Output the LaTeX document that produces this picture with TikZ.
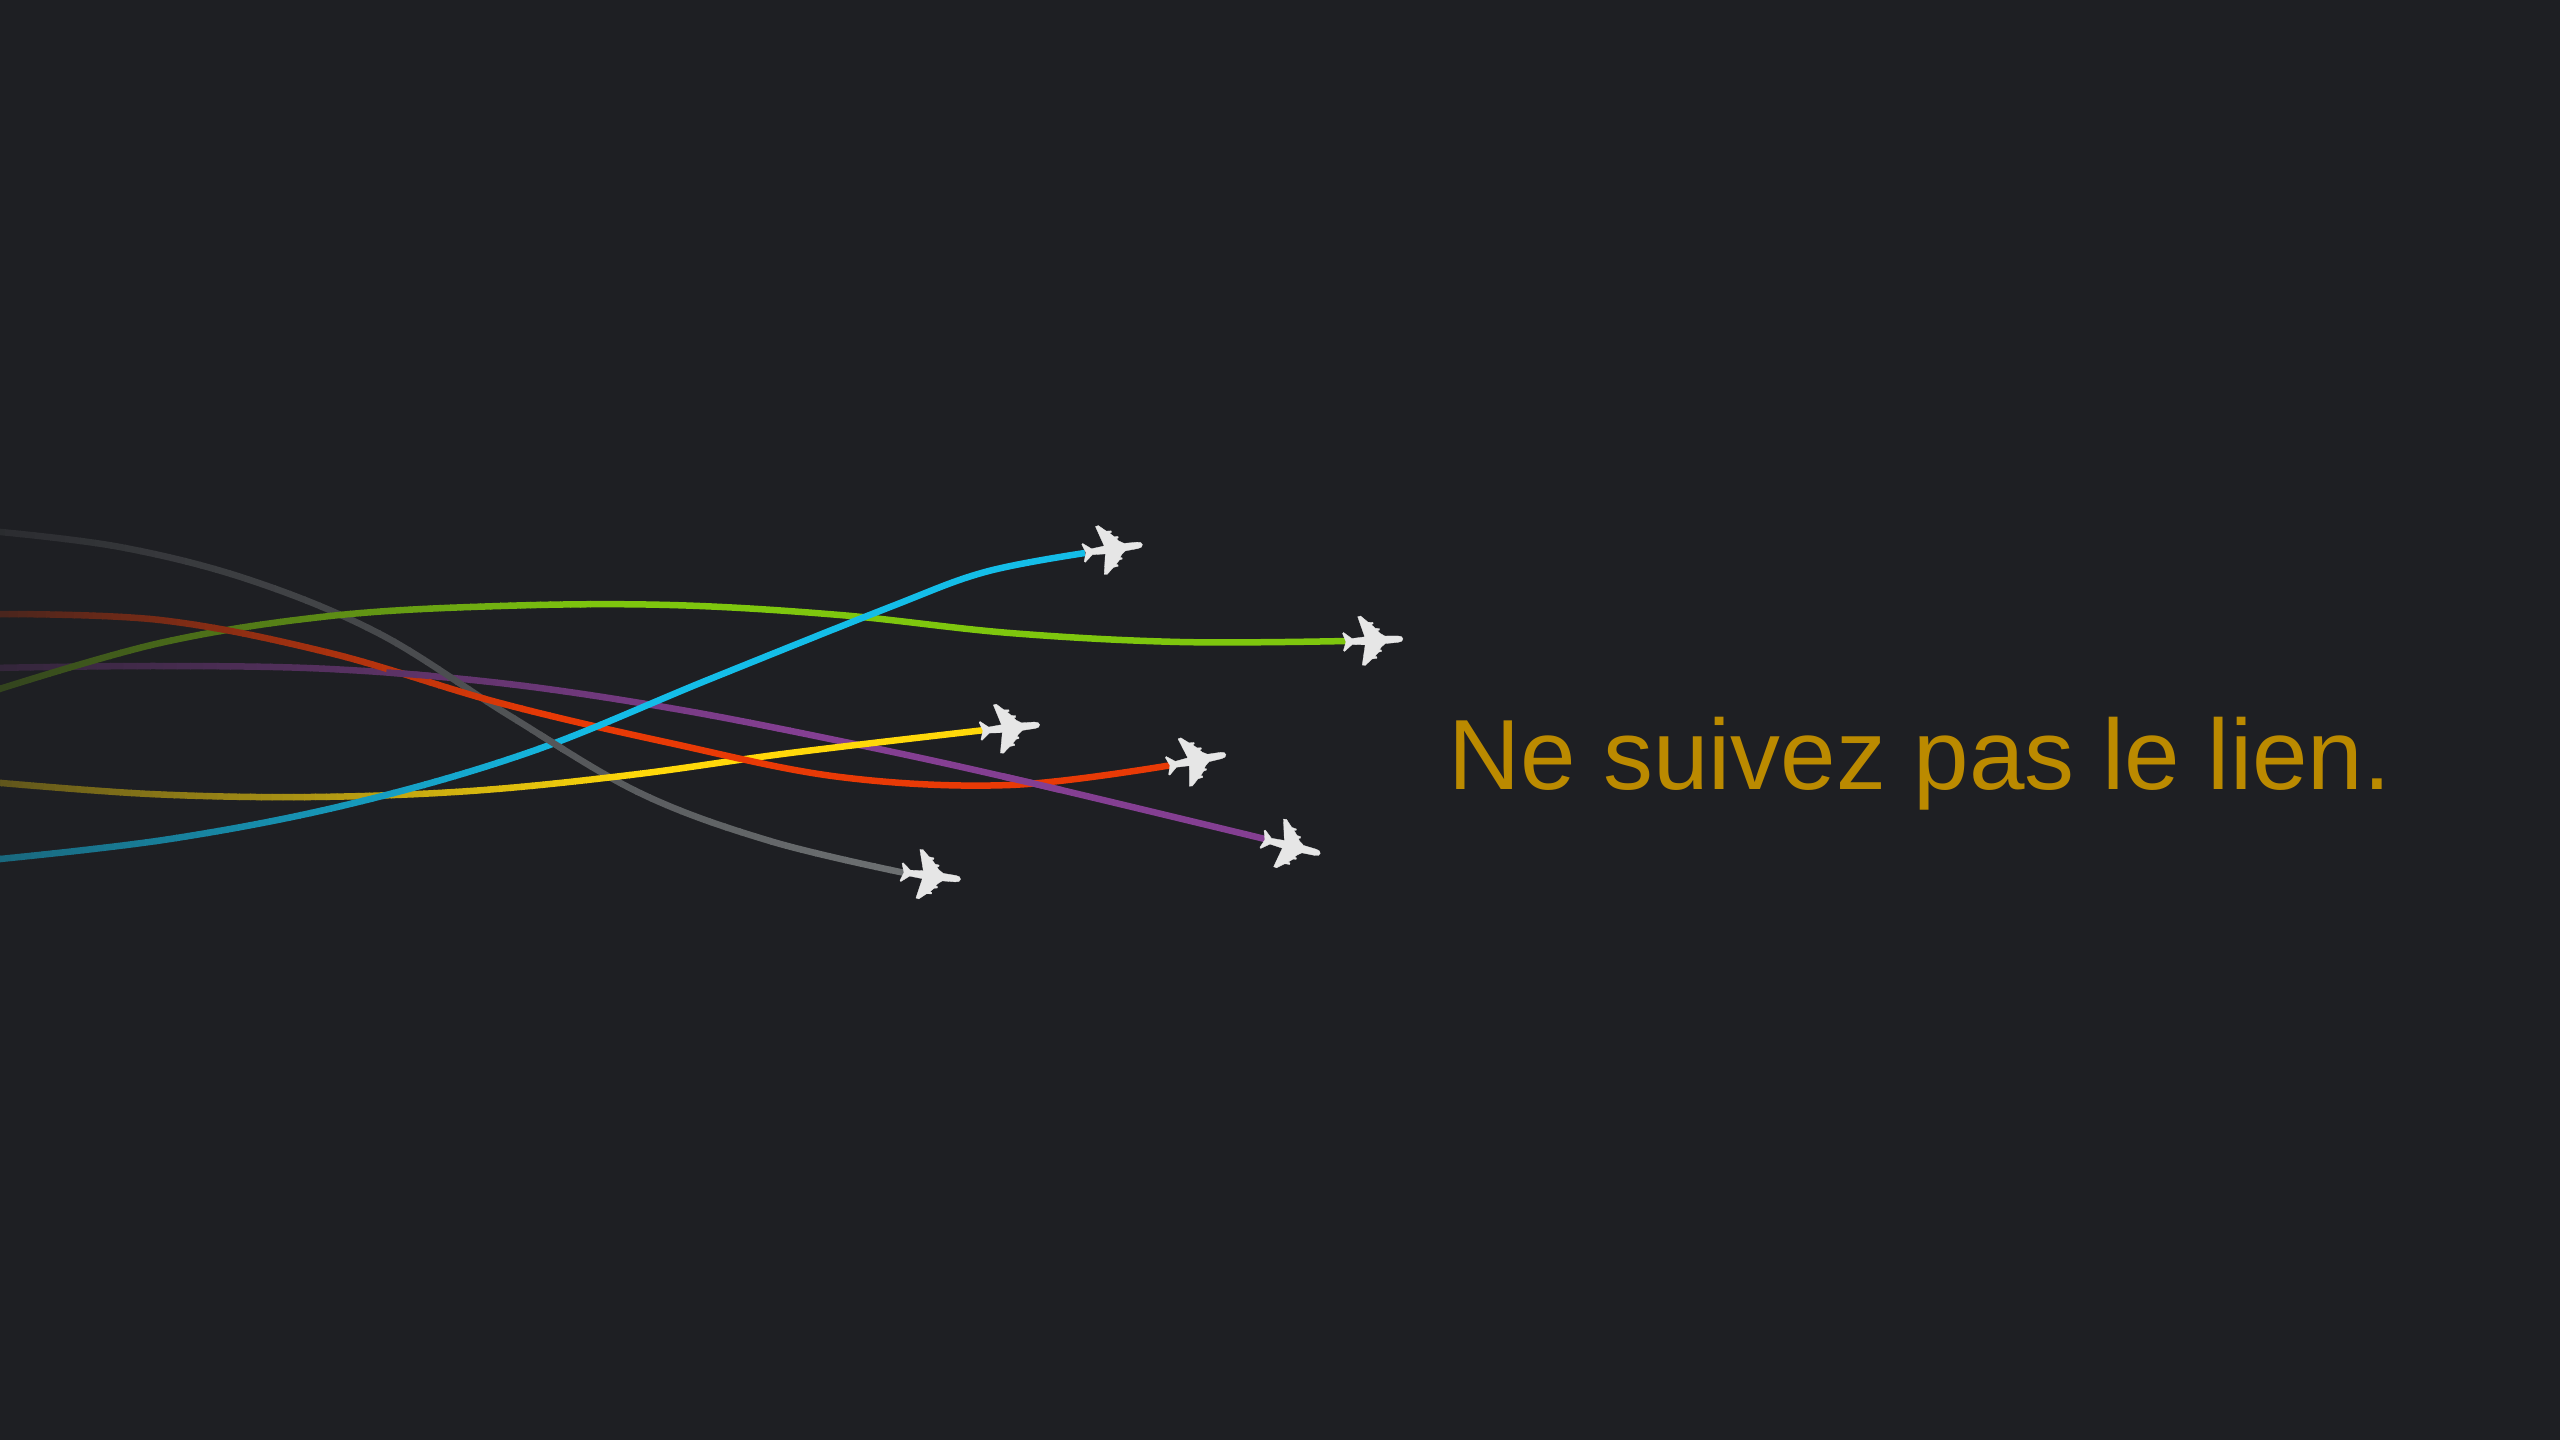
\documentclass[tikz,border=0pt]{standalone}
\usepackage{fontspec}
\setmainfont{Liberation Sans}
\definecolor{bgc}{HTML}{1E1F23}
\definecolor{cgray}{HTML}{6D7072}
\definecolor{cgreen}{HTML}{7EC60E}
\definecolor{cred}{HTML}{E83A06}
\definecolor{cpurple}{HTML}{843F92}
\definecolor{cyellow}{HTML}{FFD80A}
\definecolor{cblue}{HTML}{14BDE8}
\definecolor{cplane}{HTML}{E6E6E6}
\definecolor{ctext}{HTML}{BB8A00}
\def\pgray{(-10,531)(120,547)(250,580)(380,634)(510,716)(640,793)(770,841)(905,873)}
\def\pgreen{(-10,692)(160,643)(330,616)(500,606)(670,605)(840,615)(1010,633)(1180,642)(1347,641)}
\def\pred{(-10,614)(160,620)(330,653)(500,703)(670,743)(840,777)(1010,785)(1172,765)}
\def\ppurple{(-10,668)(160,666)(330,669)(500,683)(670,708)(840,741)(1010,778)(1265,839)}
\def\pyellow{(-10,782)(150,794)(310,797)(470,791)(630,775)(790,753)(985,730)}
\def\pblue{(-10,860)(170,839)(350,804)(530,752)(710,679)(890,607)(985,572)(1085,553)}
% colour, start strength, full-strength x, coordinates
\newcommand{\fadecurve}[4]{%
  \foreach \i in {0,...,59}{%
    \pgfmathsetmacro{\xa}{-10+\i/60*#3}%
    \pgfmathsetmacro{\xb}{\xa+#3/60+1}%
    \pgfmathsetmacro{\tv}{min(100,#2+(100-#2)*(\i+0.5)/60)}%
    \begin{scope}
      \clip (\xa,0) rectangle (\xb,1440);
      \draw[trail,draw=#1!\tv!bgc] plot[smooth,tension=0.6] coordinates {#4};
    \end{scope}%
  }%
  \begin{scope}
    \clip (#3-10,0) rectangle (2560,1440);
    \draw[trail,draw=#1] plot[smooth,tension=0.6] coordinates {#4};
  \end{scope}%
}
\tikzset{
  x=1pt,y=-1pt,
  trail/.style={line width=6.5pt,line cap=butt},
  plane/.pic={
    \fill[cplane,draw=cplane,line width=0.3pt,line join=round]
      (60,0) .. controls (60,-2.2) and (58,-3) .. (55,-3.2)
      -- (42,-3.8) -- (37,-7) -- (35,-9.5) -- (37,-10) -- (37,-11.5) -- (33,-12)
      -- (29,-16) -- (31,-16.5) -- (31,-18) -- (26,-18.5)
      -- (19,-25) -- (16,-24.5) -- (22,-4) -- (9,-3)
      -- (1,-9.5) -- (0,-8.5) -- (3,0)
      -- (0,8.5) -- (1,9.5) -- (9,3) -- (22,4)
      -- (18,24) -- (21,24.5) -- (28,18.5) -- (33,18) -- (33,16.5)
      -- (31,16) -- (35,12) -- (38,11.5) -- (38,10) -- (36,9.5) -- (38,7) -- (42,3.8)
      -- (55,3.2) .. controls (58,3) and (60,2.2) .. (60,0) -- cycle;
  }
}
\begin{document}
\begin{tikzpicture}
\useasboundingbox (0,0) rectangle (2560,1440);
\fill[bgc] (0,0) rectangle (2560,1440);
\fadecurve{cpurple}{20}{800}{\ppurple}
\fadecurve{cgray}{15}{900}{\pgray}
\fadecurve{cyellow}{28}{650}{\pyellow}
\fadecurve{cgreen}{20}{600}{\pgreen}
\fadecurve{cred}{20}{560}{\pred}
\fadecurve{cblue}{45}{620}{\pblue}
% crossings where the lower trail passes over
\begin{scope}
  \clip (408,675) circle (22);
  \fadecurve{cpurple}{20}{800}{\ppurple}
\end{scope}
\begin{scope}
  \clip (1032,783) circle (30);
  \fadecurve{cpurple}{20}{800}{\ppurple}
\end{scope}
\begin{scope}
  \clip (550,745) circle (16);
  \fadecurve{cgray}{15}{900}{\pgray}
\end{scope}
\pic[rotate=-7] at (901,872) {plane};
\pic[rotate=-14] at (1262,839) {plane};
\pic[rotate=11] at (1167,766) {plane};
\pic[rotate=6] at (980,731) {plane};
\pic[rotate=8] at (1083,553) {plane};
\pic[rotate=3] at (1343,642) {plane};
\node[anchor=base west,inner sep=0pt,text=ctext] (msg) at (1448,789)
  {\fontsize{99.8}{120}\selectfont Ne suivez pas le lien.};
\end{tikzpicture}
\end{document}
